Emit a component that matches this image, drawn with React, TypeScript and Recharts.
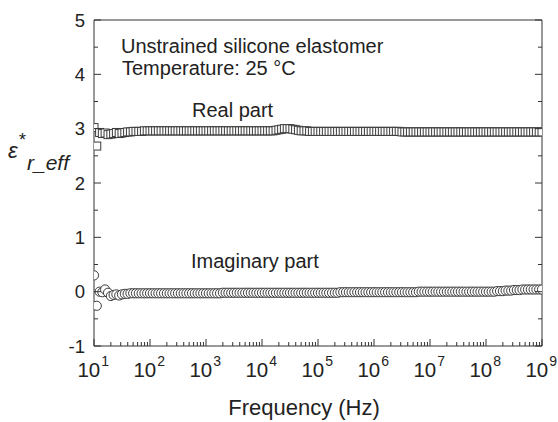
import { Scatter, ScatterChart, XAxis, YAxis } from "recharts";

// frequency grid: 20 points per decade, 10 Hz .. 1 GHz
const mantissas = [
  1.0, 1.12, 1.26, 1.41, 1.58, 1.78, 2.0, 2.24, 2.51, 2.82,
  3.16, 3.55, 3.98, 4.47, 5.01, 5.62, 6.31, 7.08, 7.94, 8.91,
];
const decades = [1e1, 1e2, 1e3, 1e4, 1e5, 1e6, 1e7, 1e8];
const lastFrequency = 1e9;

// real part of effective permittivity, one row per decade
const realPart = [
  3.02, 2.68, 2.93, 2.91, 2.92, 2.89, 2.9, 2.91, 2.93, 2.91, 2.92, 2.93, 2.94, 2.94, 2.95, 2.95, 2.95, 2.95, 2.96, 2.96,
  2.96, 2.96, 2.96, 2.96, 2.96, 2.96, 2.96, 2.96, 2.96, 2.96, 2.96, 2.96, 2.96, 2.96, 2.96, 2.96, 2.96, 2.96, 2.96, 2.96,
  2.96, 2.96, 2.96, 2.96, 2.96, 2.96, 2.96, 2.96, 2.96, 2.96, 2.96, 2.96, 2.96, 2.96, 2.96, 2.96, 2.96, 2.96, 2.96, 2.96,
  2.96, 2.96, 2.96, 2.96, 2.96, 2.97, 2.98, 2.99, 3.0, 3.0, 3.0, 2.99, 2.98, 2.97, 2.96, 2.96, 2.96, 2.95, 2.95, 2.95,
  2.95, 2.95, 2.95, 2.95, 2.95, 2.95, 2.95, 2.95, 2.95, 2.95, 2.95, 2.95, 2.95, 2.95, 2.95, 2.95, 2.95, 2.95, 2.95, 2.95,
  2.95, 2.95, 2.95, 2.95, 2.95, 2.95, 2.95, 2.95, 2.95, 2.95, 2.94, 2.94, 2.94, 2.94, 2.94, 2.94, 2.94, 2.94, 2.94, 2.94,
  2.94, 2.94, 2.94, 2.94, 2.94, 2.94, 2.94, 2.94, 2.94, 2.94, 2.94, 2.94, 2.94, 2.94, 2.94, 2.94, 2.94, 2.94, 2.94, 2.94,
  2.94, 2.94, 2.94, 2.94, 2.94, 2.94, 2.94, 2.94, 2.94, 2.94, 2.94, 2.94, 2.94, 2.94, 2.94, 2.94, 2.94, 2.94, 2.94, 2.94,
  2.94,
];

// imaginary part
const imagPart = [
  0.3, -0.26, 0.0, -0.01, 0.04, -0.02, -0.08, -0.06, -0.05, -0.07, -0.05, -0.04, -0.04, -0.03, -0.03, -0.03, -0.03, -0.03, -0.03, -0.03,
  -0.03, -0.03, -0.03, -0.03, -0.03, -0.03, -0.03, -0.03, -0.03, -0.03, -0.03, -0.03, -0.03, -0.03, -0.03, -0.03, -0.03, -0.03, -0.03, -0.03,
  -0.03, -0.03, -0.03, -0.03, -0.03, -0.03, -0.02, -0.02, -0.02, -0.02, -0.02, -0.02, -0.02, -0.02, -0.02, -0.02, -0.02, -0.02, -0.02, -0.02,
  -0.02, -0.02, -0.02, -0.02, -0.02, -0.02, -0.02, -0.02, -0.02, -0.02, -0.02, -0.02, -0.02, -0.02, -0.02, -0.02, -0.02, -0.02, -0.02, -0.02,
  -0.02, -0.02, -0.02, -0.02, -0.02, -0.02, -0.02, -0.02, -0.01, -0.01, -0.01, -0.01, -0.01, -0.01, -0.01, -0.01, -0.01, -0.01, -0.01, -0.01,
  -0.01, -0.01, -0.01, -0.01, -0.01, -0.01, -0.01, -0.01, -0.01, -0.01, -0.01, -0.01, -0.01, -0.01, -0.01, -0.01, 0.0, 0.0, 0.0, 0.0,
  0.0, 0.0, 0.0, 0.0, 0.0, 0.0, 0.0, 0.0, 0.0, 0.0, 0.0, 0.0, 0.0, 0.0, 0.0, 0.0, 0.0, 0.0, 0.0, 0.0,
  0.0, 0.0, 0.0, 0.0, 0.01, 0.01, 0.01, 0.02, 0.02, 0.02, 0.03, 0.03, 0.03, 0.04, 0.04, 0.04, 0.04, 0.04, 0.04, 0.04,
  0.04,
];

const yTicks = [-1, -0.5, 0, 0.5, 1, 1.5, 2, 2.5, 3, 3.5, 4, 4.5, 5];
const tickMantissas = [1, 2, 3, 4, 5, 6, 7, 8, 9];

const frequency = decades.flatMap((d) => mantissas.map((m) => m * d)).concat([lastFrequency]);
const xTicks = decades.flatMap((d) => tickMantissas.map((m) => m * d)).concat([lastFrequency]);

const realData = frequency.map((f, i) => ({ f, v: realPart[i] }));
const imagData = frequency.map((f, i) => ({ f, v: imagPart[i] }));

const AXIS = "#333";
const INK = "#222";
const FONT = "'Liberation Sans', Arial, sans-serif";

function isDecade(v: number) {
  const l = Math.log10(v);
  return Math.abs(l - Math.round(l)) < 1e-6;
}

function LeftTick({ x, y, payload }: any) {
  const major = Number.isInteger(payload.value);
  return (
    <g>
      <line x1={x} y1={y} x2={x + (major ? 7 : 4)} y2={y} stroke={AXIS} />
      {major && (
        <text x={x - 9} y={y} dy="0.36em" textAnchor="end" fontSize={18.5} fill={INK} fontFamily={FONT}>
          {payload.value}
        </text>
      )}
    </g>
  );
}

function RightTick({ x, y, payload }: any) {
  const major = Number.isInteger(payload.value);
  return <line x1={x} y1={y} x2={x - (major ? 7 : 4)} y2={y} stroke={AXIS} />;
}

function BottomTick({ x, y, payload }: any) {
  const major = isDecade(payload.value);
  const exp = Math.round(Math.log10(payload.value));
  return (
    <g>
      <line x1={x} y1={y} x2={x} y2={y - (major ? 7 : 4)} stroke={AXIS} />
      {major && (
        <text x={x + 15} y={y + 31} textAnchor="end" fontSize={20.5} fill={INK} fontFamily={FONT}>
          10
          <tspan dx={1} dy={-11} fontSize={14}>
            {exp}
          </tspan>
        </text>
      )}
    </g>
  );
}

function TopTick({ x, y, payload }: any) {
  const major = isDecade(payload.value);
  return <line x1={x} y1={y} x2={x} y2={y + (major ? 7 : 4)} stroke={AXIS} />;
}

function SquareMark({ cx, cy }: any) {
  return <rect x={cx - 4} y={cy - 4} width={8} height={8} fill="#fff" stroke="#3a3a3a" strokeWidth={1} />;
}

function CircleMark({ cx, cy }: any) {
  return <circle cx={cx} cy={cy} r={4.6} fill="#fff" stroke="#3a3a3a" strokeWidth={1} />;
}

export default function App() {
  return (
    <div style={{ position: "absolute", left: 0, top: 0, width: 558, height: 422, background: "#fff" }}>
      <ScatterChart width={558} height={422} margin={{ top: 0, right: 0, bottom: 0, left: 0 }}>
        <XAxis
          xAxisId="b"
          dataKey="f"
          type="number"
          scale="log"
          domain={[10, 1e9]}
          ticks={xTicks}
          interval={0}
          allowDataOverflow
          height={76}
          tickSize={0}
          tickMargin={0}
          tickLine={false}
          axisLine={{ stroke: AXIS }}
          tick={<BottomTick />}
        />
        <XAxis
          xAxisId="t"
          orientation="top"
          type="number"
          scale="log"
          domain={[10, 1e9]}
          ticks={xTicks}
          interval={0}
          allowDataOverflow
          height={20}
          tickSize={0}
          tickMargin={0}
          tickLine={false}
          axisLine={{ stroke: AXIS }}
          tick={<TopTick />}
        />
        <YAxis
          yAxisId="l"
          dataKey="v"
          type="number"
          domain={[-1, 5]}
          ticks={yTicks}
          interval={0}
          allowDataOverflow
          width={94}
          tickSize={0}
          tickMargin={0}
          tickLine={false}
          axisLine={{ stroke: AXIS }}
          tick={<LeftTick />}
        />
        <YAxis
          yAxisId="r"
          orientation="right"
          type="number"
          domain={[-1, 5]}
          ticks={yTicks}
          interval={0}
          allowDataOverflow
          width={16}
          tickSize={0}
          tickMargin={0}
          tickLine={false}
          axisLine={{ stroke: AXIS }}
          tick={<RightTick />}
        />
        <Scatter xAxisId="b" yAxisId="l" data={realData} shape={<SquareMark />} isAnimationActive={false} />
        <Scatter xAxisId="b" yAxisId="l" data={imagData} shape={<CircleMark />} isAnimationActive={false} />
      </ScatterChart>
      <svg
        width={558}
        height={422}
        style={{ position: "absolute", left: 0, top: 0, pointerEvents: "none" }}
        fontFamily={FONT}
        fill={INK}
      >
        <text x={121} y={53} fontSize={20}>Unstrained silicone elastomer</text>
        <text x={122} y={75} fontSize={20}>Temperature: 25 °C</text>
        <text x={192} y={117} fontSize={20}>Real part</text>
        <text x={191} y={268} fontSize={20}>Imaginary part</text>
        <text x={8} y={158} fontSize={22} fontStyle="italic">ε</text>
        <text x={19} y={146} fontSize={18}>*</text>
        <text x={27} y={170} fontSize={21} fontStyle="italic">r_eff</text>
        <text x={304} y={415} fontSize={22} textAnchor="middle">Frequency (Hz)</text>
      </svg>
    </div>
  );
}
